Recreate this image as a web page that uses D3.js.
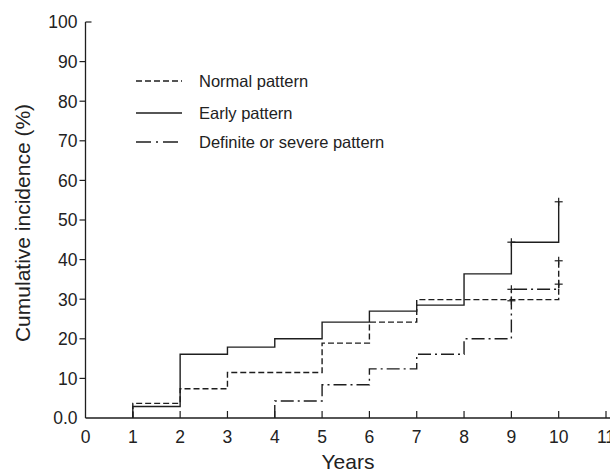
<!DOCTYPE html>
<html>
<head>
<meta charset="utf-8">
<script src="https://cdn.jsdelivr.net/npm/d3@7"></script>
<style>
    body { margin: 0; background: #fff; }
    text { font-family: "Liberation Sans", Arial, sans-serif; fill: #222; }
</style>
</head>
<body>
<svg id="chart" width="610" height="473"></svg>
<script>
// Cumulative incidence step data
var earlyYears = [1, 2, 3, 4, 5, 6, 7, 8, 9, 10];
var earlyValues = [2.9, 16.1, 17.9, 20.0, 24.2, 27.0, 28.5, 36.4, 44.4, 54.6];
var normalYears = [1, 2, 3, 5, 6, 7, 10];
var normalValues = [3.7, 7.4, 11.5, 18.9, 24.2, 29.9, 39.7];
var definiteYears = [4, 5, 6, 7, 8, 9, 10];
var definiteValues = [4.3, 8.4, 12.4, 16.1, 20.0, 32.5, 33.8];
// censored points (+)
var censorYears = [9, 10, 9, 10, 9, 10];
var censorValues = [44.4, 54.6, 29.6, 39.7, 32.5, 33.8];
var xTicks = [0, 1, 2, 3, 4, 5, 6, 7, 8, 9, 10, 11];
var yTicks = [0, 10, 20, 30, 40, 50, 60, 70, 80, 90, 100];
var legendNames = ["Normal pattern", "Early pattern", "Definite or severe pattern"];

var svg = d3.select("#chart");
var ink = "#1e1e1e";

var x = d3.scaleLinear().domain([0, 11]).range([85.5, 606]);
var y = d3.scaleLinear().domain([0, 100]).range([418, 22]);

// Axes
var gx = svg.append("g").attr("transform", "translate(0," + y(0) + ")");
gx.append("line")
    .attr("x1", x(0)).attr("x2", 610)
    .attr("stroke", ink).attr("stroke-width", 1.3);
gx.selectAll(".xt")
    .data(xTicks.slice(1))
    .enter().append("line")
    .attr("x1", function (d) { return x(d); })
    .attr("x2", function (d) { return x(d); })
    .attr("y1", 0).attr("y2", -7)
    .attr("stroke", ink).attr("stroke-width", 1.2);
gx.selectAll(".xl")
    .data(xTicks)
    .enter().append("text")
    .attr("x", function (d) { return x(d); })
    .attr("y", 25)
    .attr("text-anchor", "middle")
    .attr("font-size", "17.5px")
    .text(function (d) { return d; });

var gy = svg.append("g").attr("transform", "translate(" + x(0) + ",0)");
gy.append("line")
    .attr("y1", y(0)).attr("y2", y(100))
    .attr("stroke", ink).attr("stroke-width", 1.3);
gy.selectAll(".yt")
    .data(yTicks.slice(1))
    .enter().append("line")
    .attr("x1", 0)
    .attr("x2", function (d) { return d === 100 ? 6 : -6; })
    .attr("y1", function (d) { return y(d); })
    .attr("y2", function (d) { return y(d); })
    .attr("stroke", ink).attr("stroke-width", 1.2);
gy.selectAll(".yl")
    .data(yTicks)
    .enter().append("text")
    .attr("x", -8)
    .attr("y", function (d) { return y(d); })
    .attr("dy", "0.36em")
    .attr("text-anchor", "end")
    .attr("font-size", "17.5px")
    .text(function (d) { return d === 0 ? "0.0" : d; });

// Axis titles
svg.append("text")
    .attr("x", 348).attr("y", 469)
    .attr("text-anchor", "middle")
    .attr("font-size", "21px")
    .text("Years");
svg.append("text")
    .attr("transform", "translate(30," + 223 + ") rotate(-90)")
    .attr("text-anchor", "middle")
    .attr("font-size", "21px")
    .text("Cumulative incidence (%)");

// Step curves
var line = d3.line()
    .x(function (d) { return x(d[0]); })
    .y(function (d) { return y(d[1]); })
    .curve(d3.curveStepAfter);

function stepPoints(years, values) {
    var pts = [[years[0], 0]];
    years.forEach(function (t, i) { pts.push([t, values[i]]); });
    return pts;
}

var dashes = ["6,3", null, "13,4,2,4"];
var series = [
    stepPoints(normalYears, normalValues),
    stepPoints(earlyYears, earlyValues),
    stepPoints(definiteYears, definiteValues)
];

svg.selectAll(".curve")
    .data(series)
    .enter().append("path")
    .attr("class", "curve")
    .attr("d", line)
    .attr("fill", "none")
    .attr("stroke", ink)
    .attr("stroke-width", 1.4)
    .attr("stroke-dasharray", function (d, i) { return dashes[i]; });

// Censor marks
var cg = svg.selectAll(".censor")
    .data(censorYears)
    .enter().append("g")
    .attr("transform", function (d, i) {
        return "translate(" + x(d) + "," + y(censorValues[i]) + ")";
    });
cg.append("line").attr("x1", -4).attr("x2", 4)
    .attr("stroke", ink).attr("stroke-width", 1.2);
cg.append("line").attr("y1", -4).attr("y2", 4)
    .attr("stroke", ink).attr("stroke-width", 1.2);

// Legend
var legend = svg.selectAll(".legend")
    .data(legendNames)
    .enter().append("g")
    .attr("transform", function (d, i) {
        return "translate(136," + [81, 113, 142][i] + ")";
    });
legend.append("line")
    .attr("x1", 0).attr("x2", 46)
    .attr("stroke", ink)
    .attr("stroke-width", 1.3)
    .attr("stroke-dasharray", function (d, i) { return i === 2 ? "15,5,2,5" : dashes[i]; });
legend.append("text")
    .attr("x", 63)
    .attr("dy", "0.36em")
    .attr("font-size", "16.5px")
    .text(function (d) { return d; });
</script>
</body>
</html>
